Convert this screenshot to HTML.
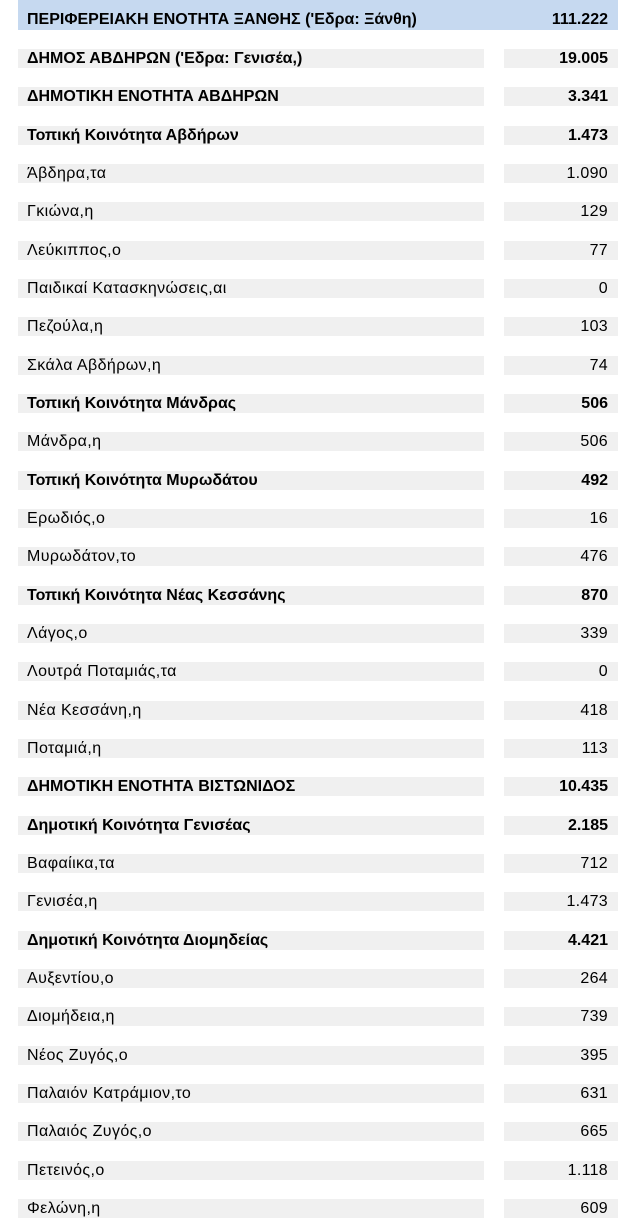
<!DOCTYPE html>
<html><head><meta charset="utf-8"><style>
body{margin:0;width:640px;height:1224px;background:#fff;position:relative;font-family:"Liberation Sans","DejaVu Sans",sans-serif;font-size:16px;color:#000;overflow:hidden}
.h{position:absolute;left:18px;width:600px;top:0;height:30px;background:#c6d9f0}
.r{position:absolute;left:0;width:640px;height:19px}
.l{position:absolute;left:18px;width:466px;height:19px;background:#f0f0f0}
.v{position:absolute;left:504px;width:114px;height:19px;background:#f0f0f0}
.t{position:absolute;left:27px;top:0px;line-height:19px;white-space:nowrap;letter-spacing:0.4px}
.n{position:absolute;right:32px;top:0px;line-height:19px;letter-spacing:0.3px}
.b{font-weight:bold;letter-spacing:0}
</style></head><body>
<div class="h"></div>
<div class="r" style="top:10px"><span class="t b">ΠΕΡΙΦΕΡΕΙΑΚΗ ΕΝΟΤΗΤΑ ΞΑΝΘΗΣ ('Εδρα: Ξάνθη)</span><span class="n b">111.222</span></div>
<div id="rows"></div>
<script>
var d=[["ΔΗΜΟΣ ΑΒΔΗΡΩΝ ('Εδρα: Γενισέα,)","19.005",1],["ΔΗΜΟΤΙΚΗ ΕΝΟΤΗΤΑ ΑΒΔΗΡΩΝ","3.341",1],["Τοπική Κοινότητα Αβδήρων","1.473",1],["Άβδηρα,τα","1.090"],["Γκιώνα,η","129"],["Λεύκιππος,ο","77"],["Παιδικαί Κατασκηνώσεις,αι","0"],["Πεζούλα,η","103"],["Σκάλα Αβδήρων,η","74"],["Τοπική Κοινότητα Μάνδρας","506",1],["Μάνδρα,η","506"],["Τοπική Κοινότητα Μυρωδάτου","492",1],["Ερωδιός,ο","16"],["Μυρωδάτον,το","476"],["Τοπική Κοινότητα Νέας Κεσσάνης","870",1],["Λάγος,ο","339"],["Λουτρά Ποταμιάς,τα","0"],["Νέα Κεσσάνη,η","418"],["Ποταμιά,η","113"],["ΔΗΜΟΤΙΚΗ ΕΝΟΤΗΤΑ ΒΙΣΤΩΝΙΔΟΣ","10.435",1],["Δημοτική Κοινότητα Γενισέας","2.185",1],["Βαφαίικα,τα","712"],["Γενισέα,η","1.473"],["Δημοτική Κοινότητα Διομηδείας","4.421",1],["Αυξεντίου,ο","264"],["Διομήδεια,η","739"],["Νέος Ζυγός,ο","395"],["Παλαιόν Κατράμιον,το","631"],["Παλαιός Ζυγός,ο","665"],["Πετεινός,ο","1.118"],["Φελώνη,η","609"]];
var h="";d.forEach(function(x,i){var y=Math.round(49+i*38.33);var c=x[2]?" b":"";h+='<div class="r" style="top:'+y+'px"><div class="l"></div><div class="v"></div><span class="t'+c+'">'+x[0]+'</span><span class="n'+c+'">'+x[1]+'</span></div>';});
document.getElementById("rows").innerHTML=h;
</script>
</body></html>
